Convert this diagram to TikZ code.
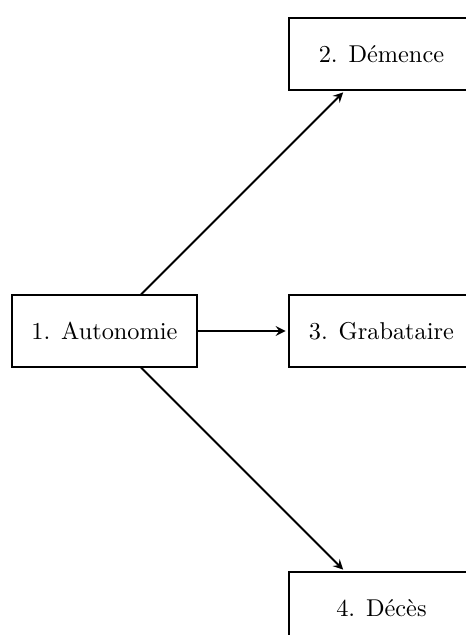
\documentclass[tikz,border=0pt]{standalone}
\usetikzlibrary{arrows}

\begin{document}
\begin{tikzpicture}[thick, etat/.style={draw, rectangle, minimum width=2.67cm, minimum height=1.03cm}]
            \useasboundingbox (-1.509,-4.390) rectangle (5.206,4.780);
            \node[etat] (A) at (0,0) {1. Autonomie};
            \node[etat] (D) at (4,4) {2. Démence};
            \node[etat] (G) at (4,0) {3. Grabataire};
            \node[etat] (M) at (4,-4) {4. Décès};
            \draw[-stealth, shorten >=1pt] (A) -- (D);
            \draw[-stealth, shorten >=1pt] (A) -- (G);
            \draw[-stealth, shorten >=1pt] (A) -- (M);
        \end{tikzpicture}
\end{document}
